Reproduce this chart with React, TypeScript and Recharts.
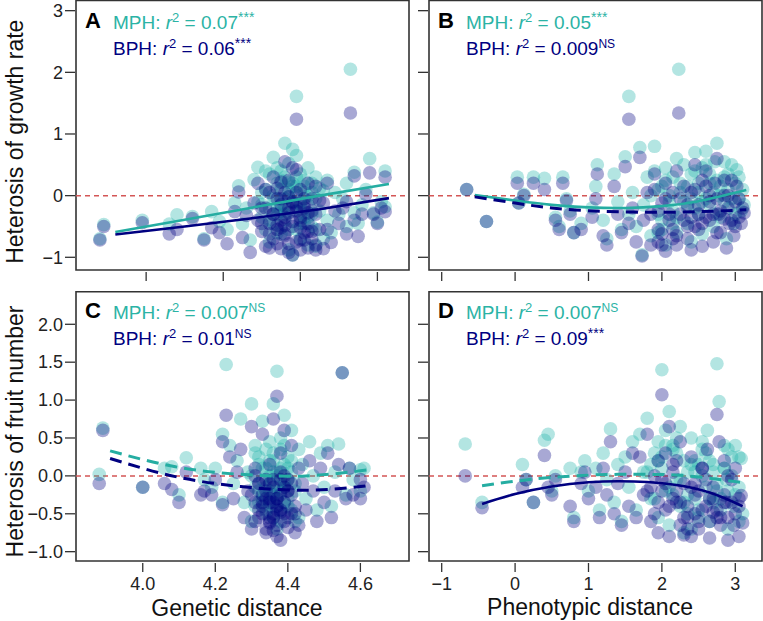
import { ScatterChart, Scatter, XAxis, YAxis, ReferenceLine, ReferenceArea } from 'recharts'

const TEAL = '#20b2aa'
const NAVY = '#000080'
const TEAL_LINE = '#25ada2'
const TEAL_TEXT = '#2bb3a5'
const FONT = '"Liberation Sans", Arial, sans-serif'

// ---- panel A: growth rate vs genetic distance
const distA = [
  3.88, 3.89, 3.99, 4.06, 4.08, 4.12, 4.15, 4.17, 4.19, 4.21,
  4.23, 4.24, 4.25, 4.26, 4.27, 4.28, 4.29, 4.29, 4.30, 4.30,
  4.31, 4.31, 4.32, 4.32, 4.33, 4.33, 4.33, 4.34, 4.34, 4.35,
  4.35, 4.35, 4.36, 4.36, 4.36, 4.37, 4.37, 4.37, 4.38, 4.38,
  4.38, 4.38, 4.39, 4.39, 4.39, 4.40, 4.40, 4.40, 4.41, 4.41,
  4.42, 4.42, 4.42, 4.43, 4.43, 4.44, 4.44, 4.44, 4.45, 4.45,
  4.46, 4.46, 4.47, 4.47, 4.48, 4.49, 4.50, 4.51, 4.52, 4.52,
  4.53, 4.54, 4.54, 4.55, 4.56, 4.57, 4.58, 4.59, 4.60, 4.61,
  4.62, 4.62, 4.34, 4.36, 4.39, 4.41, 4.37, 4.43, 4.35, 4.40,
  4.30, 4.31, 4.32, 4.33, 4.34, 4.35, 4.36, 4.37, 4.38, 4.39,
  4.40, 4.41, 4.42, 4.43, 4.44, 4.32, 4.34, 4.36, 4.38, 4.40,
  4.42, 4.35, 4.37, 4.39, 4.41,
]
const mphA = [
  -0.70, -0.47, -0.40, -0.46, -0.31, -0.34, -0.70, -0.26, -0.42, -0.55,
  -0.12, 0.16, -0.46, -0.20, -0.72, 0.26, 0.46, -0.10, -0.35, 0.05,
  -0.55, 0.40, -0.20, -0.75, 0.62, -0.05, -0.45, 0.20, -0.30, -0.62,
  0.10, -0.15, 0.85, -0.40, 0.30, -0.88, -0.02, 0.52, -0.25, 0.75,
  -0.96, 0.15, 1.61, 0.65, -0.55, -0.10, 0.35, -0.70, 0.05, -0.35,
  0.45, -0.80, -0.15, 0.20, -0.50, -0.05, 0.30, -0.82, -0.25, 0.12,
  0.08, -0.70, 0.25, -0.40, -0.60, 0.05, -0.30, -0.05, -0.50, 0.20,
  2.05, 0.38, -0.28, -0.45, -0.15, 0.10, 0.60, -0.28, -0.43, -0.10,
  0.40, -0.18, -0.60, -0.18, 0.00, -0.45, 0.22, -0.30, 0.40, -0.25,
  -0.15, 0.10, -0.40, 0.00, -0.20, 0.25, -0.30, 0.10, -0.10, 0.30,
  -0.15, 0.15, -0.35, 0.05, -0.55, 0.35, 0.45, -0.05, 0.20, -0.45,
  0.00, -0.25, -0.55, 0.15, 0.25,
]
const bphA = [
  -0.72, -0.50, -0.44, -0.62, -0.55, -0.37, -0.72, -0.52, -0.60, -0.78,
  -0.26, 0.06, -0.68, -0.32, -0.92, -0.12, 0.20, -0.40, -0.58, -0.20,
  -0.82, 0.10, -0.45, -0.85, 0.30, -0.30, -0.70, -0.05, -0.55, -0.86,
  -0.15, -0.40, 0.55, -0.65, 0.05, -0.92, -0.28, 0.25, -0.50, 0.45,
  -0.96, -0.10, 1.24, 0.42, -0.75, -0.35, 0.10, -0.88, -0.20, -0.60,
  0.20, -0.85, -0.45, -0.05, -0.70, -0.30, 0.15, -0.88, -0.55, -0.08,
  -0.12, -0.86, 0.20, -0.55, -0.76, -0.25, -0.45, -0.20, -0.62, -0.10,
  1.34, 0.32, -0.40, -0.66, -0.30, 0.02, 0.37, -0.30, -0.45, -0.20,
  0.30, -0.26, -0.78, -0.48, -0.25, -0.72, -0.02, -0.58, 0.22, -0.52,
  -0.45, -0.20, -0.62, -0.30, -0.48, -0.05, -0.62, -0.20, -0.42, 0.05,
  -0.40, -0.15, -0.58, -0.25, -0.80, 0.05, 0.12, -0.35, -0.12, -0.72,
  -0.28, -0.52, -0.78, -0.18, -0.05,
]
const fitXA = [3.92, 4.10, 4.27, 4.45, 4.63]
const fitMphA = [-0.59, -0.39, -0.20, 0.0, 0.19]
const fitBphA = [-0.63, -0.50, -0.37, -0.22, -0.04]

// ---- panel B: growth rate vs phenotypic distance
const distB = [
  -0.66, -0.39, 0.03, 0.05, 0.12, 0.25, 0.40, 0.55, 0.60, 0.65,
  0.70, 0.75, 0.80, 0.90, 1.05, 1.10, 1.12, 1.20, 1.25, 1.35,
  1.40, 1.45, 1.50, 1.55, 1.55, 1.60, 1.73, 1.65, 1.70, 1.75,
  1.80, 1.85, 1.90, 1.95, 2.00, 2.05, 2.05, 2.10, 2.15, 2.20,
  2.20, 2.25, 2.23, 2.30, 2.35, 2.40, 2.40, 2.45, 2.50, 2.50,
  2.55, 2.55, 2.60, 2.65, 2.65, 2.70, 2.72, 2.75, 2.78, 2.80,
  2.85, 2.88, 2.90, 2.92, 2.95, 2.98, 3.00, 3.02, 3.05, 3.08,
  3.10, 3.12, 2.35, 2.15, 1.95, 2.45, 2.60, 2.85, 2.00, 2.75,
  1.85, 1.95, 2.05, 2.15, 2.25, 2.35, 2.45, 2.55, 2.65, 2.75,
  2.85, 2.95, 3.05, 2.10, 2.30, 2.50, 2.70, 2.90, 3.00, 2.20,
  2.40, 2.60, 2.80, 1.90, 2.00,
]
const mphB = [
  0.10, -0.42, 0.30, -0.12, 0.02, 0.30, 0.28, -0.35, -0.50, 0.30,
  -0.05, -0.25, -0.60, -0.45, -0.20, 0.15, 0.50, -0.40, -0.70, 0.35,
  -0.10, -0.55, 0.63, 1.61, -0.30, 0.05, -0.96, -0.50, 0.78, -0.15,
  0.30, -0.65, 0.80, 0.10, -0.40, 0.45, -0.80, 0.00, -0.25, 0.60,
  -0.60, 0.20, 2.05, -0.10, -0.45, 0.35, -0.75, 0.70, 0.05, -0.30,
  0.45, -0.62, 0.72, -0.15, 0.20, -0.50, 0.55, 0.85, 0.00, -0.35,
  0.30, -0.70, 0.10, -0.20, 0.50, -0.45, 0.20, 0.42, -0.05, -0.25,
  0.10, -0.15, 0.15, 0.30, -0.60, -0.20, -0.05, -0.10, 0.15, 0.25,
  0.00, -0.30, 0.25, -0.45, 0.05, -0.20, 0.40, -0.10, 0.35, -0.30,
  0.55, -0.05, 0.30, -0.10, 0.50, 0.20, 0.05, 0.35, -0.30, -0.35,
  -0.05, 0.50, 0.15, 0.40, -0.55,
]
const bphB = [
  0.10, -0.42, 0.20, -0.12, 0.00, 0.20, 0.10, -0.40, -0.55, 0.20,
  -0.08, -0.30, -0.60, -0.55, -0.35, -0.05, 0.35, -0.65, -0.80, 0.15,
  -0.30, -0.60, 0.47, 1.24, -0.45, -0.20, -0.98, -0.75, 0.62, -0.40,
  0.05, -0.80, 0.35, -0.25, -0.62, 0.20, -0.90, -0.30, -0.55, 0.40,
  -0.80, -0.05, 1.34, -0.40, -0.70, 0.05, -0.88, 0.50, -0.30, -0.55,
  0.25, -0.82, 0.40, -0.40, -0.10, -0.75, 0.20, 0.60, -0.30, -0.60,
  0.00, -0.85, -0.20, -0.45, 0.25, -0.65, -0.10, 0.15, -0.35, -0.45,
  -0.20, -0.28, -0.15, 0.05, -0.75, -0.50, -0.35, -0.38, -0.12, -0.05,
  -0.30, -0.55, -0.05, -0.70, -0.30, -0.50, 0.10, -0.45, 0.00, -0.60,
  0.25, -0.40, -0.05, -0.40, 0.15, -0.15, -0.30, 0.00, -0.50, -0.65,
  -0.35, 0.15, -0.25, 0.10, -0.80,
]
const fitXB = [-0.55, 0.0, 0.5, 1.0, 1.5, 2.0, 2.5, 3.15]
const fitMphB = [0.01, -0.08, -0.15, -0.19, -0.2, -0.17, -0.09, 0.09]
const fitBphB = [-0.02, -0.12, -0.2, -0.245, -0.265, -0.27, -0.26, -0.23]

// ---- panel C: fruit number vs genetic distance
const distC = [
  3.88, 3.89, 4.00, 4.06, 4.08, 4.10, 4.12, 4.16, 4.17, 4.19,
  4.20, 4.22, 4.23, 4.22, 4.24, 4.25, 4.26, 4.27, 4.28, 4.29,
  4.30, 4.30, 4.31, 4.32, 4.33, 4.33, 4.34, 4.35, 4.35, 4.36,
  4.36, 4.37, 4.37, 4.38, 4.38, 4.39, 4.39, 4.40, 4.40, 4.41,
  4.41, 4.42, 4.43, 4.43, 4.44, 4.45, 4.46, 4.47, 4.48, 4.49,
  4.50, 4.51, 4.52, 4.53, 4.54, 4.55, 4.56, 4.57, 4.58, 4.60,
  4.61, 4.60, 4.34, 4.35, 4.36, 4.37, 4.38, 4.39, 4.36, 4.33,
  4.40, 4.38, 4.35, 4.41, 4.37, 4.32, 4.34, 4.39, 4.42, 4.31,
  4.36, 4.38, 4.30, 4.31, 4.32, 4.33, 4.34, 4.35, 4.36, 4.37,
  4.38, 4.39, 4.40, 4.41, 4.33, 4.35, 4.37, 4.39, 4.34, 4.36,
  4.38, 4.32, 4.40, 4.37, 4.35, 4.42, 4.31,
]
const mphC = [
  0.02, 0.63, -0.15, 0.10, 0.12, -0.25, 0.24, 0.10, -0.05, -0.15,
  0.10, 0.55, 1.47, -0.35, 0.40, -0.10, 0.20, 0.75, -0.35, 0.05,
  0.95, -0.60, 0.30, -0.20, 0.72, 0.10, -0.45, 0.20, -0.10, 0.95,
  -0.25, 1.38, 0.00, -0.60, 0.50, 0.80, -0.15, 0.25, -0.40, 0.60,
  0.05, -0.20, 0.35, -0.55, 0.15, -0.30, 0.45, 0.00, -0.45, 0.30,
  -0.15, 0.40, -0.40, 0.05, 0.42, 1.36, -0.25, 0.10, -0.05, 0.08,
  0.10, -0.20, -0.15, -0.40, 0.05, -0.30, -0.10, -0.35, -0.55, -0.30,
  -0.05, 0.10, -0.20, -0.45, -0.70, 0.15, 0.35, 0.40, -0.60, -0.40,
  0.20, -0.45, 0.00, -0.15, 0.25, -0.25, 0.10, -0.35, 0.30, 0.05,
  -0.20, 0.15, -0.30, 0.20, -0.05, 0.45, -0.15, -0.10, -0.50, -0.25,
  0.35, -0.35, 0.10, -0.40, 0.00, -0.10, 0.40,
]
const bphC = [
  -0.10, 0.60, -0.15, -0.10, -0.18, -0.35, 0.05, -0.25, -0.20, -0.25,
  -0.05, 0.45, 0.80, -0.38, 0.25, -0.30, 0.05, 0.35, -0.55, -0.20,
  0.65, -0.70, 0.00, -0.45, 0.55, -0.25, -0.75, -0.10, -0.35, 0.75,
  -0.55, 1.05, -0.30, -0.85, 0.30, 0.60, -0.50, -0.05, -0.68, 0.40,
  -0.25, -0.50, 0.10, -0.65, -0.10, -0.45, 0.20, -0.20, -0.60, 0.10,
  -0.35, 0.30, -0.55, -0.20, 0.15, 1.36, -0.30, 0.10, -0.25, -0.05,
  -0.15, -0.30, -0.30, -0.55, -0.15, -0.45, -0.25, -0.60, -0.72, -0.40,
  -0.20, -0.05, -0.62, -0.50, -0.80, -0.10, -0.05, 0.00, -0.75, -0.60,
  -0.35, -0.48, -0.25, -0.35, -0.10, -0.50, -0.20, -0.60, -0.05, -0.30,
  -0.45, -0.15, -0.55, -0.10, -0.35, 0.15, -0.40, -0.35, -0.70, -0.50,
  0.05, -0.55, -0.20, -0.65, -0.30, -0.40, 0.10,
]
const fitXC = [3.91, 4.09, 4.27, 4.45, 4.62]
const fitMphC = [0.33, 0.12, 0.02, 0.0, 0.08]
const fitBphC = [0.23, -0.01, -0.14, -0.19, -0.13]

// ---- panel D: fruit number vs phenotypic distance
const distD = [
  -0.68, -0.45, 0.10, 0.15, 0.25, 0.40, 0.45, 0.50, 0.55, 0.75,
  0.80, 0.90, 0.95, 1.00, 1.10, 1.15, 1.20, 1.25, 1.30, 1.35,
  1.40, 1.45, 1.50, 1.55, 1.60, 1.65, 1.70, 1.75, 1.80, 1.85,
  1.90, 1.95, 2.00, 2.00, 2.05, 2.10, 2.10, 2.15, 2.20, 2.25,
  2.25, 2.30, 2.35, 2.40, 2.40, 2.45, 2.50, 2.55, 2.60, 2.62,
  2.65, 2.70, 2.75, 2.78, 2.80, 2.85, 2.88, 2.90, 2.95, 2.98,
  3.00, 3.05, 3.08, 3.10, 2.30, 1.95, 2.20, 2.45, 2.55, 2.70,
  2.85, 2.35, 2.05, 2.65, 2.90, 3.05, 2.15, 2.50, 1.85, 2.75,
  1.80, 1.90, 2.00, 2.10, 2.20, 2.30, 2.40, 2.50, 2.60, 2.70,
  2.80, 2.90, 3.00, 2.05, 2.25, 2.45, 2.65, 2.85, 3.05, 2.15,
  2.35, 2.55, 2.75, 2.95, 1.95,
]
const mphD = [
  0.42, -0.35, 0.15, -0.05, -0.35, 0.47, 0.55, -0.20, 0.00, 0.10,
  -0.55, 0.05, 0.20, -0.20, 0.10, -0.45, 0.30, -0.05, 0.62, -0.35,
  0.15, -0.60, 0.25, -0.15, 0.45, -0.45, 0.55, 0.05, 0.76, -0.30,
  0.30, -0.55, 1.40, 0.10, -0.20, 0.85, -0.65, 0.40, -0.05, 0.65,
  -0.40, 0.20, -0.25, 0.50, -0.70, 0.05, -0.45, 0.35, -0.15, 0.60,
  -0.60, 0.15, 1.48, 0.98, -0.30, 0.40, -0.05, -0.70, 0.25, -0.40,
  0.40, -0.15, 0.23, -0.50, -0.75, 0.20, 0.30, -0.30, 0.00, -0.35,
  0.10, 0.05, 0.40, 0.20, -0.20, 0.25, -0.25, 0.15, 0.15, -0.10,
  0.05, -0.30, 0.25, -0.15, 0.50, -0.35, 0.15, -0.55, 0.30, 0.05,
  -0.45, 0.35, -0.25, 0.60, -0.05, 0.20, -0.30, 0.10, -0.60, 0.35,
  -0.50, 0.45, -0.20, 0.00, 0.45,
]
const bphD = [
  0.00, -0.42, -0.15, -0.05, -0.35, 0.27, -0.15, -0.25, -0.05, -0.40,
  -0.60, -0.10, 0.05, -0.30, -0.15, -0.55, 0.10, -0.25, 0.45, -0.50,
  -0.10, -0.65, 0.05, -0.40, 0.30, -0.55, 0.25, -0.25, 0.55, -0.60,
  0.00, -0.75, 1.07, -0.20, -0.45, 0.65, -0.80, 0.15, -0.35, 0.45,
  -0.65, -0.10, -0.55, 0.25, -0.80, -0.25, -0.60, 0.10, -0.40, 0.35,
  -0.82, -0.15, 0.81, 0.45, -0.55, 0.20, -0.35, -0.85, -0.05, -0.65,
  0.10, -0.30, -0.26, -0.62, -0.78, -0.35, -0.20, -0.50, -0.45, -0.48,
  -0.35, -0.40, -0.10, -0.30, -0.55, -0.40, -0.30, -0.20, -0.15, -0.55,
  -0.20, -0.50, -0.05, -0.40, 0.20, -0.55, -0.15, -0.70, -0.05, -0.30,
  -0.65, 0.00, -0.50, 0.30, -0.35, -0.10, -0.60, -0.25, -0.80, 0.05,
  -0.70, 0.10, -0.45, -0.35, 0.20,
]
const fitXD = [-0.45, 0.0, 0.5, 1.0, 1.4, 1.8, 2.2, 2.65, 3.1]
const fitMphD = [-0.13, -0.07, -0.02, 0.01, 0.02, 0.02, 0.01, -0.03, -0.09]
const fitBphD = [-0.37, -0.24, -0.14, -0.085, -0.07, -0.08, -0.12, -0.22, -0.4]

const genTicks = [4.0, 4.2, 4.4, 4.6]
const phenoTicks = [-1, 0, 1, 2, 3]
const growthTicks = [-1, 0, 1, 2, 3]
const fruitTicks = [-1, -0.5, 0, 0.5, 1, 1.5, 2]

const minus = (s: string) => s.replace('-', '\u2212')
const fmtInt = (v: number) => minus(String(v))
const fmt1 = (v: number) => minus(v.toFixed(1))

const pts = (xs: number[], ys: number[]) => xs.map((x, i) => ({ x, y: ys[i] }))

const dot = (color: string) => (p: any) => (
  <circle cx={p.cx} cy={p.cy} r={6.8} fill={color} fillOpacity={0.34} />
)

function XTick({ x, y, payload, showLabel, fmt }: any) {
  return (
    <g>
      <line x1={x} x2={x} y1={y + 2} y2={y + 11} stroke="#333" strokeWidth={1.3} />
      {showLabel && (
        <text x={x} y={y + 29} textAnchor="middle" fontSize={18} fill="#222" fontFamily={FONT}>
          {fmt(payload.value)}
        </text>
      )}
    </g>
  )
}

function YTick({ x, y, payload, showLabel, fmt }: any) {
  return (
    <g>
      <line x1={x - 11} x2={x - 1} y1={y} y2={y} stroke="#333" strokeWidth={1.3} />
      {showLabel && (
        <text x={x - 13} y={y} dy="0.35em" textAnchor="end" fontSize={18} fill="#222" fontFamily={FONT}>
          {fmt(payload.value)}
        </text>
      )}
    </g>
  )
}

function Panel(props: any) {
  const {
    left, top, width, height, yAxisWidth, xAxisHeight, marginTop, marginRight,
    xDomain, yDomain, xTicks, yTicks, xLabels, yLabels, xFmt, yFmt,
    xs, mph, bph, fitX, fitMph, fitBph, mphDashed, bphDashed, curve,
  } = props
  const joint = curve ? 'natural' : 'linear'
  return (
    <div style={{ position: 'absolute', left, top }}>
      <ScatterChart
        width={width}
        height={height}
        margin={{ top: marginTop, right: marginRight, bottom: 0, left: 0 }}
      >
        <XAxis
          type="number"
          dataKey="x"
          domain={xDomain}
          allowDataOverflow
          ticks={xTicks}
          interval={0}
          axisLine={false}
          tickLine={false}
          tickSize={0}
          tickMargin={0}
          height={xAxisHeight}
          tick={(p: any) => <XTick {...p} showLabel={xLabels} fmt={xFmt} />}
        />
        <YAxis
          type="number"
          dataKey="y"
          domain={yDomain}
          allowDataOverflow
          ticks={yTicks}
          interval={0}
          axisLine={false}
          tickLine={false}
          tickSize={0}
          tickMargin={0}
          width={yAxisWidth}
          tick={(p: any) => <YTick {...p} showLabel={yLabels} fmt={yFmt} />}
        />
        <ReferenceLine y={0} stroke="#d45656" strokeWidth={1.5} strokeDasharray="5 4" />
        <Scatter data={pts(xs, mph)} shape={dot(TEAL)} isAnimationActive={false} />
        <Scatter data={pts(xs, bph)} shape={dot(NAVY)} isAnimationActive={false} />
        <Scatter
          data={pts(fitX, fitMph)}
          line={{ stroke: TEAL_LINE, strokeWidth: mphDashed ? 3 : 2.6, strokeDasharray: mphDashed ? '12 7' : undefined }}
          lineJointType={joint}
          shape={() => null}
          isAnimationActive={false}
        />
        <Scatter
          data={pts(fitX, fitBph)}
          line={{ stroke: NAVY, strokeWidth: bphDashed ? 3 : 2.6, strokeDasharray: bphDashed ? '12 7' : undefined }}
          lineJointType={joint}
          shape={() => null}
          isAnimationActive={false}
        />
        <ReferenceArea
          x1={xDomain[0]}
          x2={xDomain[1]}
          y1={yDomain[0]}
          y2={yDomain[1]}
          fill="none"
          stroke="#333"
          strokeWidth={1.6}
          ifOverflow="visible"
        />
      </ScatterChart>
    </div>
  )
}

function Note({ x, y, letter, mph, mphSup, bph, bphSup }: any) {
  const sup = (s: string) => (
    <tspan dy={-7} fontSize={s === 'NS' ? 12 : 14}>{s}</tspan>
  )
  return (
    <g fontFamily={FONT}>
      <text x={x} y={y} fontSize={22} fontWeight="bold" fill="#000">{letter}</text>
      <text x={x + 28} y={y + 1} fontSize={19} fill={TEAL_TEXT}>
        MPH: <tspan fontStyle="italic">r</tspan>
        <tspan dy={-7} fontSize={13}>2</tspan>
        <tspan dy={7}> = {mph}</tspan>
        {sup(mphSup)}
      </text>
      <text x={x + 28} y={y + 27} fontSize={19} fill={NAVY}>
        BPH: <tspan fontStyle="italic">r</tspan>
        <tspan dy={-7} fontSize={13}>2</tspan>
        <tspan dy={7}> = {bph}</tspan>
        {sup(bphSup)}
      </text>
    </g>
  )
}

export default function App() {
  const top = { top: 0, height: 290, xAxisHeight: 20, marginTop: 0.5 }
  const bottom = { top: 290, height: 331, xAxisHeight: 60, marginTop: 1.7 }
  const leftCol = { left: 0, width: 412, yAxisWidth: 76, marginRight: 3 }
  const rightCol = { left: 412, width: 351, yAxisWidth: 17, marginRight: 1 }
  const growthDomain = [-1.206, 3.165]
  const fruitDomain = [-1.123, 2.43]
  const phenoDomain = [-1.173, 3.364]
  return (
    <div style={{ position: 'absolute', left: 0, top: 0, width: 763, height: 621, background: '#fff' }}>
      <Panel
        {...top} {...leftCol}
        xDomain={[3.818, 4.682]} yDomain={growthDomain}
        xTicks={genTicks} yTicks={growthTicks} xLabels={false} yLabels
        xFmt={fmt1} yFmt={fmtInt}
        xs={distA} mph={mphA} bph={bphA}
        fitX={fitXA} fitMph={fitMphA} fitBph={fitBphA}
      />
      <Panel
        {...top} {...rightCol}
        xDomain={phenoDomain} yDomain={growthDomain}
        xTicks={phenoTicks} yTicks={growthTicks} xLabels={false} yLabels={false}
        xFmt={fmtInt} yFmt={fmtInt}
        xs={distB} mph={mphB} bph={bphB}
        fitX={fitXB} fitMph={fitMphB} fitBph={fitBphB} bphDashed curve
      />
      <Panel
        {...bottom} {...leftCol}
        xDomain={[3.816, 4.734]} yDomain={fruitDomain}
        xTicks={genTicks} yTicks={fruitTicks} xLabels yLabels
        xFmt={fmt1} yFmt={fmt1}
        xs={distC} mph={mphC} bph={bphC}
        fitX={fitXC} fitMph={fitMphC} fitBph={fitBphC} mphDashed bphDashed curve
      />
      <Panel
        {...bottom} {...rightCol}
        xDomain={phenoDomain} yDomain={fruitDomain}
        xTicks={phenoTicks} yTicks={fruitTicks} xLabels yLabels={false}
        xFmt={fmtInt} yFmt={fmt1}
        xs={distD} mph={mphD} bph={bphD}
        fitX={fitXD} fitMph={fitMphD} fitBph={fitBphD} mphDashed curve
      />
      <svg
        width={763}
        height={621}
        style={{ position: 'absolute', left: 0, top: 0, pointerEvents: 'none' }}
      >
        <Note x={85} y={28} letter="A" mph="0.07" mphSup="***" bph="0.06" bphSup="***" />
        <Note x={438} y={28} letter="B" mph="0.05" mphSup="***" bph="0.009" bphSup="NS" />
        <Note x={85} y={318} letter="C" mph="0.007" mphSup="NS" bph="0.01" bphSup="NS" />
        <Note x={438} y={318} letter="D" mph="0.007" mphSup="NS" bph="0.09" bphSup="***" />
        <g fontFamily={FONT} fontSize={23} fill="#111" textAnchor="middle">
          <text transform="translate(23,141.7) rotate(-90)">Heterosis of growth rate</text>
          <text transform="translate(23,431.5) rotate(-90)">Heterosis of fruit number</text>
          <text x={237} y={616}>Genetic distance</text>
          <text x={590} y={615}>Phenotypic distance</text>
        </g>
      </svg>
    </div>
  )
}
